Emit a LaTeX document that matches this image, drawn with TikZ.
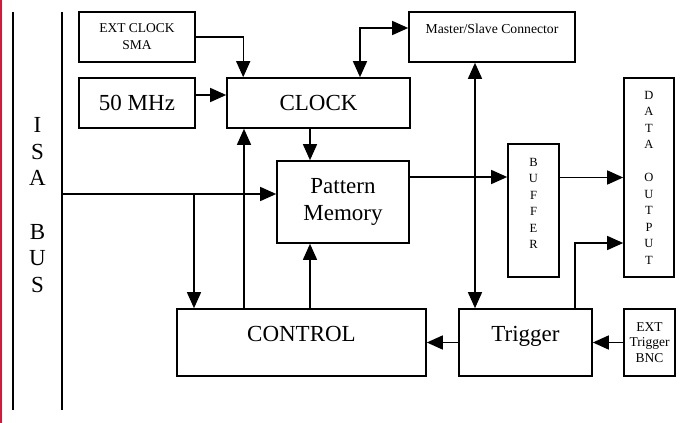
\documentclass[tikz,border=0pt]{standalone}
\usepackage{fontspec}
\setmainfont{Liberation Serif}
\usetikzlibrary{arrows.meta}
\definecolor{marginred}{RGB}{220,20,60}

\begin{document}
\begin{tikzpicture}[x=1pt, y=-1pt,
    box/.style={draw, rectangle, line width=1.6pt, inner sep=0pt, align=center},
    arr/.style={->, >={Triangle[length=16pt, width=14pt]}, line width=1.4pt},
    big/.style={font=\fontsize{23}{26.7}\selectfont},
    small/.style={font=\fontsize{13.5}{17}\selectfont},
    letters/.style={font=\fontsize{12.5}{16.5}\selectfont, align=center, inner sep=0pt}]

        \useasboundingbox (0,0) rectangle (681,423);

        % roter Rand links
        \draw[marginred, line width=2pt] (1,0) -- (1,423);

        % ISA-Bus
        \draw[line width=1.5pt] (13,12) -- (13,410);
        \draw[line width=1.5pt] (62,12) -- (62,410);
        \node[big, align=center, inner sep=0pt] (isa) at (37.5,205) {I\\S\\A\\\mbox{}\\B\\U\\S};

        % Taktquellen
        \node[box, small, minimum width=116pt, minimum height=50pt] (extclk) at (137,37) {EXT CLOCK\\SMA};
        \node[box, big, minimum width=116pt, minimum height=50pt] (mhz) at (137,103) {50 MHz};
        \node[box, big, minimum width=183pt, minimum height=50pt] (clock) at (318.5,103) {CLOCK};
        \node[box, minimum width=166pt, minimum height=50pt] (master) at (492,37) {};
        \node[font=\fontsize{13.7}{17}\selectfont, anchor=base, inner sep=0pt] (mastertxt) at (492,34) {Master/Slave Connector};

        % Speicher und Ausgang
        \node[box, big, minimum width=132pt, minimum height=82pt] (pm) at (343,202) {Pattern\\Memory};
        \node[box, minimum width=51pt, minimum height=133pt] (buf) at (533.5,210.5) {};
        \node[letters] (buftxt) at (533.5,203.5) {B\\U\\F\\F\\E\\R};
        \node[box, minimum width=50pt, minimum height=199pt] (data) at (649,177.5) {};
        \node[letters] (datatxt) at (649,177.5) {D\\A\\T\\A\\\mbox{}\\O\\U\\T\\P\\U\\T};

        % Steuerung und Trigger
        \node[box, minimum width=249pt, minimum height=67pt] (ctrl) at (301.5,342.5) {};
        \node[big, anchor=base, inner sep=0pt] (ctrltxt) at (301.5,341) {CONTROL};
        \node[box, minimum width=133pt, minimum height=67pt] (trig) at (525.5,342.5) {};
        \node[big, anchor=base, inner sep=0pt] (trigtxt) at (525.5,341) {Trigger};
        \node[box, font=\fontsize{13.5}{15.5}\selectfont, minimum width=51pt, minimum height=67pt] (exttrig) at (649.5,342.5) {EXT\\Trigger\\BNC};

        % Verbindungen
        \draw[arr] (extclk.east) -| ([xshift=17pt]clock.north west);
        \draw[arr] ([yshift=8pt]mhz.east) -- ([yshift=8pt]clock.west);
        \draw[arr, <->] ([xshift=41.5pt]clock.north) |- ([yshift=9pt]master.west);
        \draw[arr, <->] ([xshift=-17pt]master.south) -- ([xshift=-17pt]master.south |- trig.north);
        \draw[arr] ([xshift=-8.5pt]clock.south) -- ([xshift=-8.5pt]clock.south |- pm.north);

        \coordinate (busout) at (62,194);
        \coordinate (tap) at (194,194);
        \draw[arr] (busout) -- (busout -| pm.west);
        \draw[arr] (tap) -- (tap |- ctrl.north);
        \draw[arr] ([xshift=-57.5pt]ctrl.north) -- ([xshift=-57.5pt]ctrl.north |- clock.south);
        \draw[arr] ([xshift=8.5pt]ctrl.north) -- ([xshift=8.5pt]ctrl.north |- pm.south);

        \draw[arr] ([yshift=25pt]pm.east) -- ([yshift=25pt]pm.east -| buf.west);
        \draw[arr] ([yshift=33pt]buf.east) -- ([yshift=33pt]buf.east -| data.west);
        \draw[arr] ([xshift=49.5pt]trig.north) |- ([yshift=-65.5pt]data.west);
        \draw[arr] (exttrig.west) -- (trig.east);
        \draw[arr] (trig.west) -- (ctrl.east);
\end{tikzpicture}
\end{document}
